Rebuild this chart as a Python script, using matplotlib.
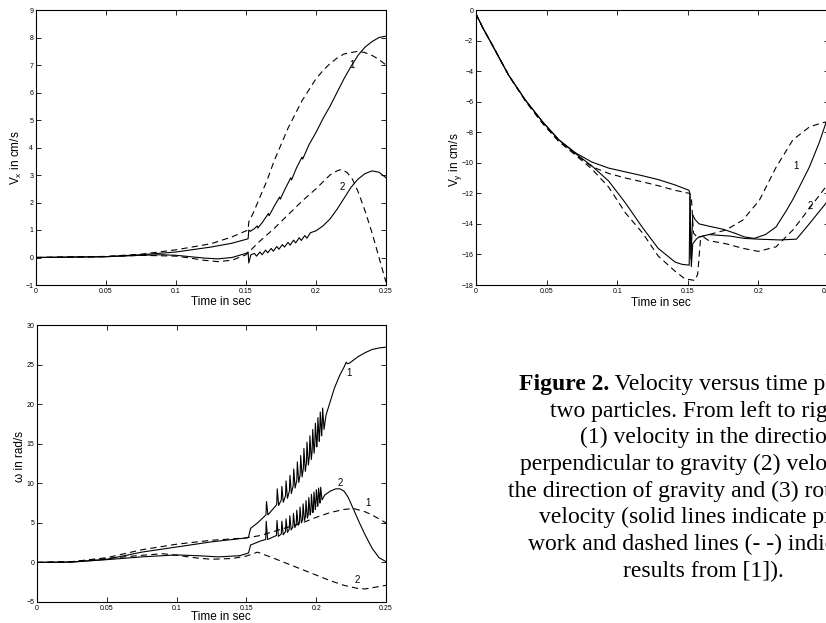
import matplotlib
matplotlib.use("Agg")
import matplotlib.pyplot as plt

plt.rcParams['font.family'] = ['Liberation Sans', 'DejaVu Sans']
plt.rcParams['mathtext.fontset'] = 'custom'
plt.rcParams['mathtext.rm'] = 'Liberation Sans'
plt.rcParams['mathtext.it'] = 'Liberation Sans'
plt.rcParams['lines.scale_dashes'] = False

# ---------------- data: Vx (top-left) ----------------
vx_s1_t = [0, 0.05, 0.075, 0.1, 0.125, 0.14, 0.1515, 0.152, 0.153, 0.156, 0.158, 0.1585, 0.162, 0.166, 0.1665,
           0.170, 0.174, 0.1745, 0.178, 0.182, 0.1825, 0.186, 0.19, 0.1905, 0.195, 0.2, 0.205, 0.21, 0.215,
           0.22, 0.225, 0.23, 0.235, 0.24, 0.245, 0.25]
vx_s1_v = [0, 0.03, 0.1, 0.2, 0.38, 0.52, 0.68, 1.0, 0.95, 1.05, 1.15, 1.07, 1.3, 1.6, 1.52,
           1.85, 2.2, 2.12, 2.5, 2.9, 2.82, 3.25, 3.65, 3.58, 4.1, 4.55, 5.05, 5.5, 6.0,
           6.5, 6.95, 7.35, 7.65, 7.85, 8.0, 8.05]

vx_d1_t = [0, 0.05, 0.075, 0.1, 0.125, 0.14, 0.1515, 0.152, 0.155, 0.16, 0.165, 0.17, 0.175, 0.18, 0.185,
           0.19, 0.195, 0.2, 0.205, 0.21, 0.215, 0.22, 0.225, 0.23, 0.235, 0.24, 0.245, 0.25]
vx_d1_v = [0, 0.04, 0.12, 0.28, 0.5, 0.75, 1.0, 1.3, 1.6, 2.2, 2.8, 3.5, 4.1, 4.7, 5.2,
           5.7, 6.1, 6.5, 6.8, 7.05, 7.25, 7.4, 7.45, 7.5, 7.45, 7.35, 7.2, 7.0]

vx_s2_t = [0, 0.05, 0.075, 0.09, 0.1, 0.11, 0.12, 0.13, 0.14, 0.15, 0.1515, 0.152, 0.1535, 0.156, 0.1575,
           0.16, 0.1615, 0.164, 0.1655, 0.168, 0.1695, 0.172, 0.1735, 0.176, 0.1775, 0.18, 0.1815, 0.184,
           0.1855, 0.188, 0.1895, 0.192, 0.1935, 0.196, 0.2, 0.205, 0.21, 0.215, 0.22, 0.225, 0.23, 0.235,
           0.24, 0.245, 0.25]
vx_s2_v = [0, 0.03, 0.08, 0.1, 0.08, 0.03, -0.02, -0.05, 0.0, 0.15, 0.2, -0.2, 0.1, 0.15, 0.05,
           0.2, 0.1, 0.27, 0.17, 0.33, 0.23, 0.4, 0.3, 0.47, 0.38, 0.55, 0.45, 0.63, 0.53, 0.72, 0.62,
           0.8, 0.7, 0.9, 0.97, 1.15, 1.4, 1.75, 2.15, 2.55, 2.85, 3.05, 3.15, 3.1, 2.9]

vx_d2_t = [0, 0.05, 0.075, 0.1, 0.11, 0.12, 0.13, 0.14, 0.15, 0.155, 0.16, 0.17, 0.18, 0.19, 0.2,
           0.205, 0.21, 0.215, 0.218, 0.222, 0.226, 0.23, 0.235, 0.24, 0.245, 0.25]
vx_d2_v = [0, 0.03, 0.08, 0.05, -0.02, -0.1, -0.15, -0.1, 0.1, 0.35, 0.6, 1.05, 1.55, 2.05, 2.5,
           2.75, 3.0, 3.15, 3.2, 3.1, 2.85, 2.4, 1.7, 0.9, 0.0, -0.9]

# ---------------- data: Vy (top-right) ----------------
vy_s1_t = [0, 0.005, 0.011, 0.023, 0.035, 0.047, 0.0587, 0.0705, 0.082, 0.094, 0.106, 0.118, 0.129,
           0.141, 0.1508, 0.1515, 0.1522, 0.1535, 0.155, 0.158, 0.165, 0.175, 0.183, 0.19, 0.197, 0.205,
           0.2125, 0.22, 0.2244, 0.23, 0.236, 0.243, 0.25]
vy_s1_v = [-0.26, -1.2, -2.2, -4.25, -5.9, -7.3, -8.5, -9.35, -9.95, -10.35, -10.6, -10.85, -11.1,
           -11.45, -11.8, -12.0, -16.3, -13.4, -13.7, -14.0, -14.15, -14.35, -14.6, -14.85, -14.95, -14.7,
           -14.2, -13.1, -12.4, -11.4, -10.3, -8.7, -6.8]

vy_s2_t = [0, 0.005, 0.011, 0.023, 0.035, 0.047, 0.0587, 0.0705, 0.082, 0.094, 0.106, 0.1176, 0.129,
           0.141, 0.146, 0.151, 0.1515, 0.1525, 0.1535, 0.156, 0.158, 0.165, 0.18, 0.19, 0.2, 0.215,
           0.227, 0.236, 0.243, 0.25]
vy_s2_v = [-0.26, -1.2, -2.2, -4.25, -5.9, -7.3, -8.5, -9.4, -10.2, -11.2, -12.65, -14.2, -15.6,
           -16.5, -16.65, -16.7, -12.2, -16.8, -15.3, -15.0, -14.85, -14.7, -14.8, -14.95, -15.0, -15.05,
           -15.0, -14.0, -13.2, -12.4]

vy_d1_t = [0, 0.005, 0.011, 0.023, 0.035, 0.047, 0.0587, 0.0705, 0.082, 0.094, 0.106, 0.118, 0.129,
           0.141, 0.151, 0.1525, 0.154, 0.157, 0.163, 0.177, 0.189, 0.2007, 0.2125, 0.2244, 0.2362,
           0.2457, 0.25]
vy_d1_v = [-0.26, -1.2, -2.2, -4.25, -5.95, -7.4, -8.6, -9.45, -10.25, -10.7, -11.0, -11.25, -11.5,
           -11.8, -12.0, -12.2, -14.6, -14.9, -14.75, -14.4, -13.75, -12.45, -10.3, -8.5, -7.65,
           -7.37, -7.3]

vy_d2_t = [0, 0.005, 0.011, 0.023, 0.035, 0.047, 0.0587, 0.0705, 0.082, 0.094, 0.106, 0.118, 0.129,
           0.141, 0.148, 0.155, 0.157, 0.159, 0.1617, 0.165, 0.177, 0.189, 0.2, 0.2125, 0.2244, 0.236, 0.25]
vy_d2_v = [-0.26, -1.2, -2.2, -4.25, -5.95, -7.4, -8.6, -9.5, -10.4, -11.6, -13.3, -14.6, -16.1,
           -17.1, -17.6, -17.7, -17.3, -15.0, -14.9, -15.1, -15.3, -15.6, -15.8, -15.5, -14.4, -13.0, -11.3]

# ---------------- data: omega (bottom-left) ----------------
w_s1_t = [0, 0.025, 0.05, 0.075, 0.1, 0.125, 0.15, 0.1515, 0.153, 0.158, 0.164, 0.1644, 0.1654,
          0.1717, 0.1721, 0.1731, 0.1750, 0.1754, 0.1764, 0.1780, 0.1784, 0.1794, 0.1808, 0.1812, 0.1822,
          0.1835, 0.1839, 0.1849, 0.1861, 0.1865, 0.1875, 0.1885, 0.1889, 0.1899, 0.1908, 0.1912, 0.1922,
          0.1930, 0.1934, 0.1944, 0.1951, 0.1955, 0.1965, 0.1971, 0.1975, 0.1985, 0.1990, 0.1994, 0.2004,
          0.2008, 0.2012, 0.2022, 0.2025, 0.2029, 0.2039, 0.2042, 0.2046, 0.2056,
          0.207, 0.21, 0.213, 0.217, 0.22, 0.2215, 0.2225, 0.224, 0.23, 0.235, 0.24, 0.245, 0.25]
w_s1_v = [0, 0.05, 0.4, 1.3, 1.95, 2.6, 3.1, 3.2, 4.3, 5.0, 6.0, 7.7, 6.0,
          7.3, 9.3, 7.2, 7.9, 9.6, 7.6, 8.4, 10.3, 8.1, 9.0, 11.0, 8.7,
          9.7, 11.8, 9.4, 10.4, 12.7, 10.1, 11.1, 13.5, 10.8, 11.9, 14.4, 11.5,
          12.6, 15.2, 12.3, 13.4, 16.0, 13.0, 14.1, 16.8, 13.8, 14.9, 17.6, 14.6,
          15.6, 18.3, 15.3, 16.3, 19.0, 16.0, 17.0, 19.5, 16.8,
          18.6, 20.3, 22.0, 23.7, 24.7, 25.3, 25.1, 25.2, 26.0, 26.5, 26.9, 27.1, 27.2]

w_s2_t = [0, 0.025, 0.05, 0.075, 0.1, 0.115, 0.13, 0.145, 0.15, 0.1515, 0.153, 0.16, 0.1638, 0.1642,
          0.1652, 0.1715, 0.1719, 0.1729, 0.1750, 0.1754, 0.1764, 0.1780, 0.1784, 0.1794, 0.1807, 0.1811,
          0.1821, 0.1833, 0.1837, 0.1847, 0.1857, 0.1861, 0.1871, 0.1880, 0.1884, 0.1894, 0.1902, 0.1906,
          0.1916, 0.1923, 0.1927, 0.1937, 0.1943, 0.1947, 0.1957, 0.1962, 0.1966, 0.1976, 0.1980, 0.1984,
          0.1994, 0.1997, 0.2001, 0.2011, 0.2013, 0.2017, 0.2027, 0.2028, 0.2032, 0.2042,
          0.206, 0.21, 0.214, 0.217, 0.22, 0.223, 0.227, 0.231, 0.235, 0.24, 0.245, 0.25]
w_s2_v = [0, 0.05, 0.35, 0.7, 0.95, 0.85, 0.7, 0.85, 1.1, 1.2, 2.2, 2.7, 2.9, 5.2,
          2.9, 3.4, 5.3, 3.3, 3.6, 5.2, 3.5, 3.9, 5.5, 3.8, 4.2, 5.9,
          4.1, 4.5, 6.2, 4.4, 4.8, 6.6, 4.7, 5.1, 7.0, 5.0, 5.4, 7.4,
          5.3, 5.8, 7.8, 5.6, 6.1, 8.2, 6.0, 6.5, 8.6, 6.3, 6.8, 8.9,
          6.7, 7.2, 9.2, 7.1, 7.6, 9.4, 7.5, 8.0, 9.5, 7.9,
          8.5, 9.0, 9.3, 9.3, 9.0, 8.2, 6.6, 5.0, 3.5, 1.8, 0.6, 0.1]

w_d1_t = [0, 0.025, 0.05, 0.075, 0.1, 0.125, 0.15, 0.16, 0.175, 0.19, 0.2, 0.21, 0.22, 0.227, 0.235,
          0.24, 0.245, 0.25]
w_d1_v = [0, 0.1, 0.6, 1.6, 2.3, 2.8, 3.1, 3.4, 4.2, 5.0, 5.7, 6.3, 6.7, 6.8, 6.4, 6.0, 5.5, 5.0]

w_d2_t = [0, 0.025, 0.05, 0.075, 0.09, 0.1, 0.115, 0.125, 0.14, 0.15, 0.158, 0.17, 0.18, 0.19, 0.2,
          0.21, 0.22, 0.23, 0.235, 0.24, 0.25]
w_d2_v = [0, 0.1, 0.5, 0.9, 1.1, 0.9, 0.55, 0.4, 0.5, 0.8, 1.3, 0.5, -0.2, -0.9, -1.6,
          -2.3, -2.9, -3.3, -3.35, -3.2, -2.9]

x_ticks = [0, 0.05, 0.1, 0.15, 0.2, 0.25]
x_ticklabels = ['0', '0.05', '0.1', '0.15', '0.2', '0.25']

caption_first = ("Figure 2.", " Velocity versus time plots for")
caption_lines = [
    "two particles. From left to right,",
    "(1) velocity in the direction",
    "perpendicular to gravity (2) velocity in",
    "the direction of gravity and (3) rotational",
    "velocity (solid lines indicate present",
    "work and dashed lines (- -) indicate",
    "results from [1]).",
]
caption_x = [550, 580, 520, 508, 539, 528, 623]

# ---------------- figure ----------------
W, H = 826, 623
fig = plt.figure(figsize=(W / 100, H / 100), dpi=100)

def box(l, t, r, b):
    return [l / W, 1 - b / H, (r - l) / W, (b - t) / H]

LW = 0.8
DASH = (4.5, 3)

def style(ax, ylim, yticks):
    ax.set_xlim(0, 0.25)
    ax.set_ylim(*ylim)
    ax.set_xticks(x_ticks)
    ax.set_xticklabels(x_ticklabels)
    ax.set_yticks(yticks)
    ax.tick_params(direction='in', length=3.5, width=0.6, top=True, right=True,
                   labelsize=5, pad=2, colors='black')
    for s in ax.spines.values():
        s.set_linewidth(0.8)

def labels(ax, l, t, r, b, xl_cx, xl_top, yl_right, yl_cy, ylabel):
    w, h = r - l, b - t
    ax.set_xlabel('Time in sec', fontsize=8.5)
    ax.set_ylabel(ylabel, fontsize=8.5)
    ax.xaxis.set_label_coords((xl_cx - l) / w, -(xl_top - b) / h)
    ax.yaxis.set_label_coords((yl_right - l) / w, (b - yl_cy) / h)

ax1 = fig.add_axes(box(36, 10, 386, 285))
ax1.plot(vx_s1_t, vx_s1_v, color='k', lw=LW)
ax1.plot(vx_s2_t, vx_s2_v, color='k', lw=LW)
ax1.plot(vx_d1_t, vx_d1_v, color='k', lw=LW, ls='--', dashes=DASH)
ax1.plot(vx_d2_t, vx_d2_v, color='k', lw=LW, ls='--', dashes=DASH)
style(ax1, (-1, 9), list(range(-1, 10)))
ax1.text(0.2235, 6.9, '1', fontsize=7)
ax1.text(0.2165, 2.45, '2', fontsize=7)
labels(ax1, 36, 10, 386, 285, 221, 296, 24, 158, r'V$_x$ in cm/s')

ax2 = fig.add_axes(box(476, 10, 829, 285))
ax2.plot(vy_s1_t, vy_s1_v, color='k', lw=LW)
ax2.plot(vy_s2_t, vy_s2_v, color='k', lw=LW)
ax2.plot(vy_d1_t, vy_d1_v, color='k', lw=LW, ls='--', dashes=DASH)
ax2.plot(vy_d2_t, vy_d2_v, color='k', lw=LW, ls='--', dashes=DASH)
style(ax2, (-18, 0), list(range(-18, 1, 2)))
ax2.text(0.2245, -10.4, '1', fontsize=7)
ax2.text(0.2345, -13.0, '2', fontsize=7)
labels(ax2, 476, 10, 829, 285, 661, 297, 464, 160, r'V$_y$ in cm/s')

ax3 = fig.add_axes(box(37, 325, 386, 602))
ax3.plot(w_s1_t, w_s1_v, color='k', lw=LW)
ax3.plot(w_s2_t, w_s2_v, color='k', lw=LW)
ax3.plot(w_d1_t, w_d1_v, color='k', lw=LW, ls='--', dashes=DASH)
ax3.plot(w_d2_t, w_d2_v, color='k', lw=LW, ls='--', dashes=DASH)
style(ax3, (-5, 30), list(range(-5, 31, 5)))
ax3.text(0.2215, 23.6, '1', fontsize=7)
ax3.text(0.2155, 9.7, '2', fontsize=7)
ax3.text(0.2355, 7.1, '1', fontsize=7)
ax3.text(0.2275, -2.6, '2', fontsize=7)
labels(ax3, 37, 325, 386, 602, 221, 611, 26, 456, '\u03c9 in rad/s')

# caption
serif = ['Liberation Serif', 'DejaVu Serif']
base0 = 390
step = 26.7
t0 = fig.text(519 / W, 1 - base0 / H, caption_first[0], fontsize=17, fontweight='bold',
              family=serif, va='baseline', ha='left')
fig.canvas.draw()
bb = t0.get_window_extent()
fig.text(bb.x1 / W, 1 - base0 / H, caption_first[1], fontsize=17, family=serif,
         va='baseline', ha='left')
for i, (line, x) in enumerate(zip(caption_lines, caption_x)):
    fig.text(x / W, 1 - (base0 + (i + 1) * step) / H, line, fontsize=17, family=serif,
             va='baseline', ha='left')

fig.savefig('out.png', dpi=100)
